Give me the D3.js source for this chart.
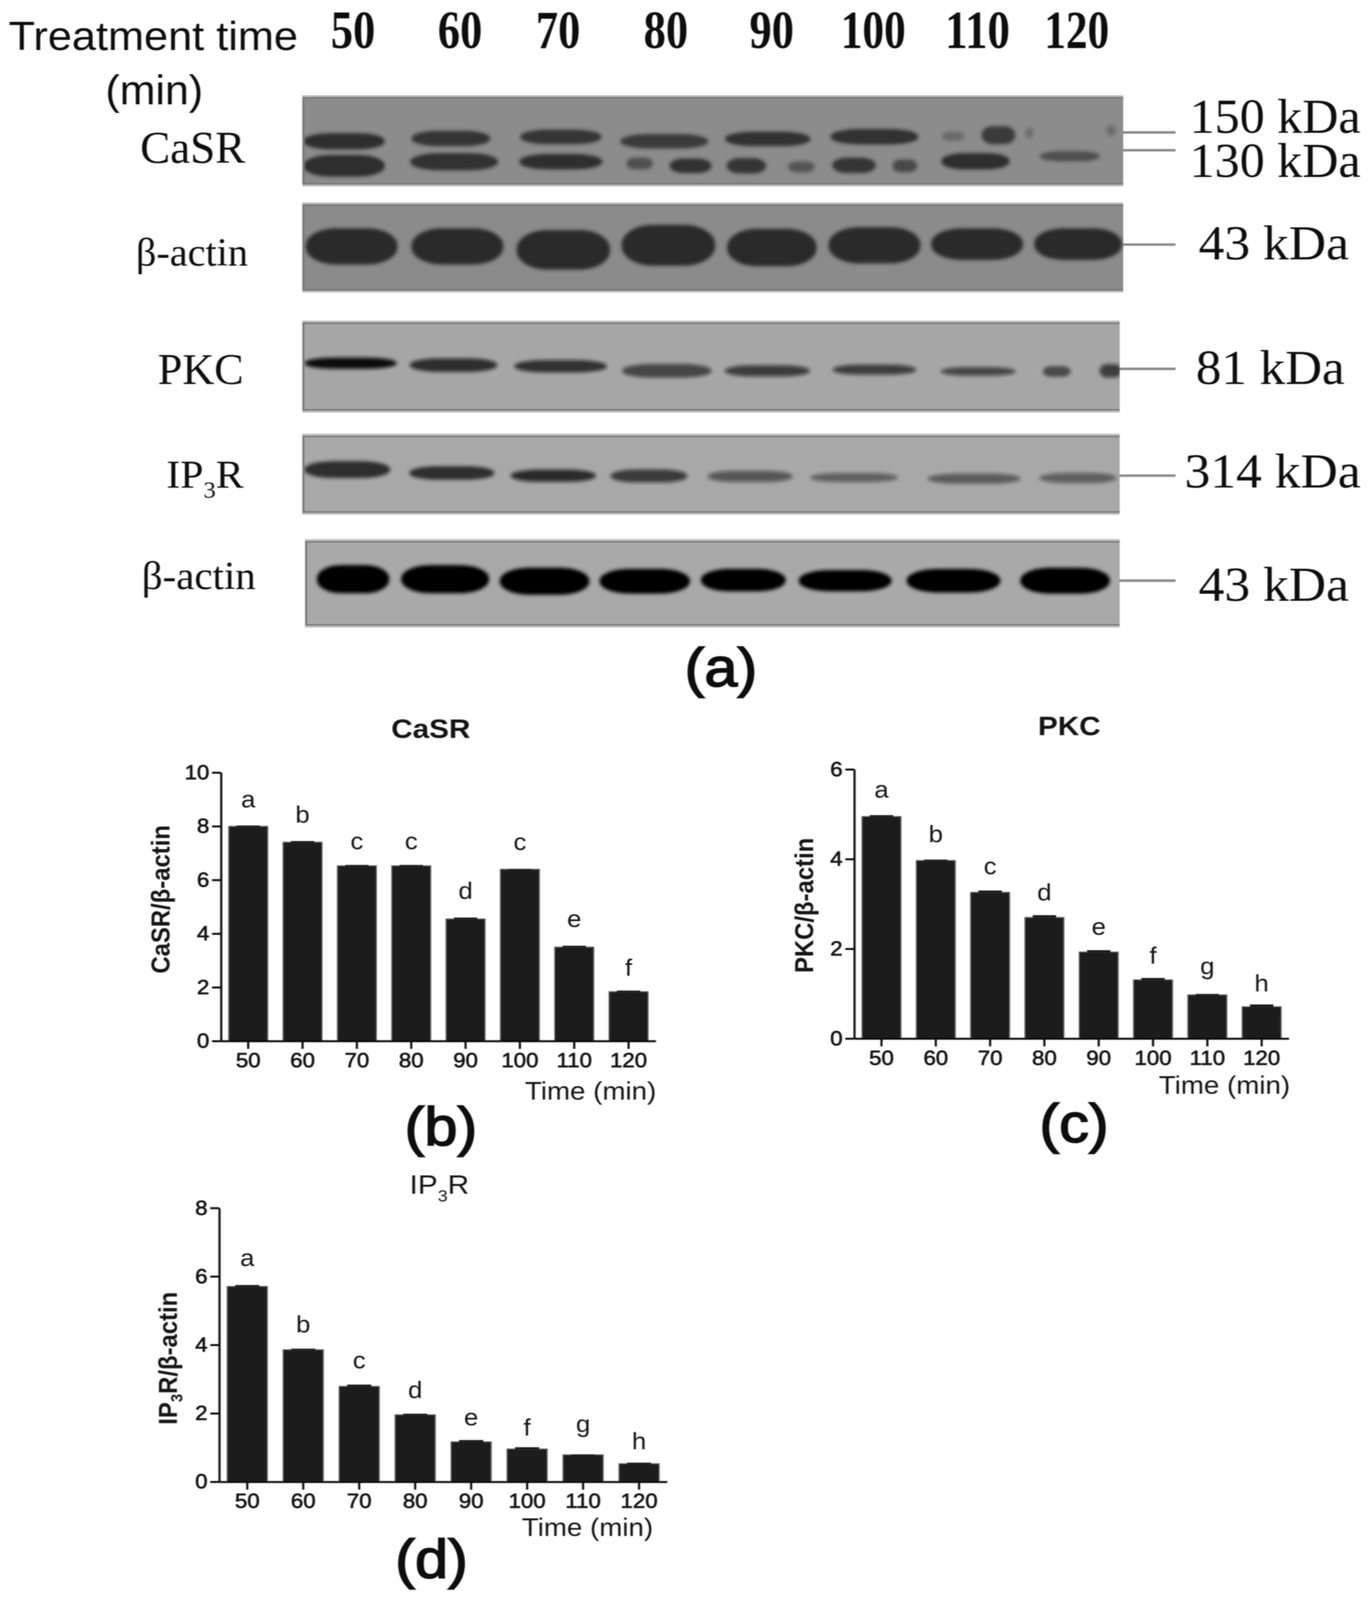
<!DOCTYPE html>
<html>
<head>
<title>CaSR, PKC and IP3R by treatment time</title>
<script src="https://d3js.org/d3.v7.min.js"></script>
<style>
body { margin: 0; background: #fff; overflow: hidden; }
svg { display: block; }
.bar-panel text { font-family: "Liberation Sans", Arial, sans-serif; fill: #161616; }
.blot-text { font-family: "Liberation Serif", "Times New Roman", serif; fill: #111; }
.sans { font-family: "Liberation Sans", Arial, sans-serif; fill: #111; }
</style>
</head>
<body>
<script>
// bar chart values
var times = ["50", "60", "70", "80", "90", "100", "110", "120"];
var casrValues = [8.0, 7.41, 6.53, 6.53, 4.55, 6.4, 3.5, 1.84];
var casrErrors = [0.03, 0.04, 0.03, 0.03, 0.05, 0.01, 0.05, 0.04];
var casrLetters = ["a", "b", "c", "c", "d", "c", "e", "f"];
var casrLetterLevels = [8.7, 8.13, 7.14, 7.14, 5.3, 7.11, 4.25, 2.43];
var casrTicks = [0, 2, 4, 6, 8, 10];

var pkcValues = [4.95, 3.97, 3.26, 2.7, 1.93, 1.31, 0.975, 0.71];
var pkcErrors = [0.03, 0.02, 0.04, 0.05, 0.04, 0.04, 0.02, 0.05];
var pkcLetters = ["a", "b", "c", "d", "e", "f", "g", "h"];
var pkcLetterLevels = [5.37, 4.38, 3.66, 3.08, 2.31, 1.67, 1.43, 1.05];
var pkcTicks = [0, 2, 4, 6];

var ip3rValues = [5.71, 3.86, 2.79, 1.96, 1.17, 0.96, 0.79, 0.53];
var ip3rErrors = [0.04, 0.03, 0.05, 0.03, 0.05, 0.05, 0.01, 0.03];
var ip3rLetters = ["a", "b", "c", "d", "e", "f", "g", "h"];
var ip3rLetterLevels = [6.31, 4.36, 3.31, 2.45, 1.65, 1.35, 1.45, 0.95];
var ip3rTicks = [0, 2, 4, 6, 8];

// gel bands: [lane %, height %, width %, thickness %, density]
var casrBands = [
  [5.1, 50.5, 9.9, 16, .9], [18.1, 47.4, 9.6, 15, .85], [31.5, 45.6, 9.9, 14, .85], [44.1, 50.5, 10.7, 14, .8],
  [56.7, 47.9, 10.4, 14, .88], [69.7, 45.4, 10.7, 15, .92], [79.3, 44.9, 2.7, 8, .35], [84.8, 43.6, 4.1, 18, .8],
  [88.6, 41, .9, 9, .3], [98.5, 38.5, 1.1, 9, .3],
  [5.1, 78.2, 9.9, 22, .95], [18.5, 73.6, 10.7, 17, .88], [31.5, 73.6, 10.1, 15, .9], [41.1, 75.6, 3.2, 11, .6],
  [47.3, 78.2, 5.1, 14, .88], [54.1, 78.2, 4.8, 15, .85], [60.8, 79.5, 3.2, 10, .55], [67.2, 77.7, 5.3, 15, .85],
  [73.4, 78.2, 3, 12, .65], [82, 73.1, 8.3, 16, .95], [93.5, 67.4, 7.3, 9, .6]
];
var actinBandsTop = [
  [6, 48.8, 11.2, 39, 1], [18.9, 48.8, 11.2, 39, 1], [31.8, 52.7, 11.4, 42.9, 1], [44.6, 47.5, 11.4, 44.2, 1],
  [57.2, 50.1, 10.9, 40.3, 1], [69.7, 47.5, 11.2, 39, 1], [82.2, 46.2, 11.2, 33.8, 1], [94.5, 46.2, 10.7, 33.8, 1]
];
var pkcBands = [
  [5.9, 46.3, 11.3, 10.2, 1], [18.5, 48.4, 10.7, 12.7, .8], [31.6, 49.7, 11.3, 11.4, .78], [44.6, 54.8, 10.9, 12.7, .65],
  [56.9, 54.8, 10.4, 10.2, .7], [70, 53.5, 10.2, 8.9, .7], [82.7, 55.5, 9.1, 7.1, .65], [92.3, 55.5, 3.4, 9.7, .55], [98.9, 54.8, 2.7, 12.7, .7]
];
var ip3rBands = [
  [5.5, 44.1, 10.5, 18.8, .85], [18.3, 48.4, 10.4, 14.5, .85], [30.7, 51.9, 10.4, 13, .82], [42.4, 52.2, 9.4, 13.9, .72],
  [54.8, 52.8, 10.4, 11.6, .55], [67.5, 54.2, 10.7, 8.7, .5], [82.2, 55.7, 11.3, 10.1, .52], [94.9, 54.8, 9.4, 10.1, .5]
];
var actinBandsBottom = [
  [5.9, 45.1, 8.9, 30.5, 1], [17.2, 45.1, 10.8, 30.5, 1], [29.4, 47.5, 11, 29.2, 1], [41.7, 47.5, 11.1, 26.5, 1],
  [53.8, 46.2, 10.4, 23.9, 1], [66.3, 46.9, 11.4, 22.5, 1], [79.6, 46.9, 11.5, 25.2, 1], [93.3, 46.9, 11, 27.9, 1]
];

// the window can be shorter than the figure, so fit the figure's coordinates to it
var svg = d3.select("body").append("svg")
  .attr("width", window.innerWidth)
  .attr("height", window.innerHeight)
  .attr("viewBox", "0 0 3513 4494")
  .attr("preserveAspectRatio", "none");

var defs = svg.append("defs");
defs.append("filter").attr("id", "soft")
  .attr("filterUnits", "userSpaceOnUse")
  .attr("x", 0).attr("y", 0).attr("width", 3513).attr("height", 4494)
  .append("feGaussianBlur").attr("stdDeviation", 1.4);
defs.append("filter").attr("id", "bandBlur")
  .attr("x", "-60%").attr("y", "-100%").attr("width", "220%").attr("height", "300%")
  .append("feGaussianBlur").attr("stdDeviation", 5);

var root = svg.append("g").attr("filter", "url(#soft)");

// ---------- western blots ----------
function blot(id, x0, x1, y0, y1, bg, ink, bands) {
  var x = d3.scaleLinear().domain([0, 100]).range([x0, x1]);
  var y = d3.scaleLinear().domain([0, 100]).range([y0, y1]);
  var bw = function(d) { return (x1 - x0) * d[2] / 100; };
  // blur eats into the visible thickness, so draw the bands a little fuller
  var bh = function(d) { return (y1 - y0) * d[3] / 100 + 6; };

  defs.append("clipPath").attr("id", id)
    .append("rect").attr("x", x0).attr("y", y0).attr("width", x1 - x0).attr("height", y1 - y0);

  root.append("rect")
    .attr("x", x0).attr("y", y0)
    .attr("width", x1 - x0).attr("height", y1 - y0)
    .attr("fill", bg);

  var g = root.append("g").attr("clip-path", "url(#" + id + ")");
  g.selectAll("rect").data(bands).enter().append("rect")
    .attr("x", function(d) { return x(d[0]) - bw(d) / 2; })
    .attr("y", function(d) { return y(d[1]) - bh(d) / 2; })
    .attr("width", bw)
    .attr("height", bh)
    .attr("rx", function(d) { return bw(d) / 3; })
    .attr("ry", function(d) { return bh(d) / 2.1; })
    .attr("fill", ink)
    .attr("fill-opacity", function(d) { return d[4]; })
    .attr("filter", "url(#bandBlur)");

  // scanned strip edge: dark line inside a pale one
  root.append("rect")
    .attr("x", x0 + 3).attr("y", y0 + 3)
    .attr("width", x1 - x0 - 6).attr("height", y1 - y0 - 6)
    .attr("fill", "none").attr("stroke", bg).attr("stroke-opacity", 0).attr("stroke-width", 0);
  root.selectAll(null).data([y0 + 4, y1 - 4]).enter().append("line")
    .attr("x1", x0).attr("x2", x1)
    .attr("y1", function(d) { return d; }).attr("y2", function(d) { return d; })
    .attr("stroke", "#777").attr("stroke-width", 4);
  root.append("line")
    .attr("x1", x0 + 3).attr("x2", x0 + 3).attr("y1", y0).attr("y2", y1)
    .attr("stroke", "#777").attr("stroke-width", 5);
  root.selectAll(null).data([y0 - 1, y1 + 1]).enter().append("line")
    .attr("x1", x0).attr("x2", x1)
    .attr("y1", function(d) { return d; }).attr("y2", function(d) { return d; })
    .attr("stroke", "#bcbcbc").attr("stroke-width", 5);
}

blot("b1", 774, 2876, 271, 520, "#8c8c8c", "#262626", casrBands);
blot("b2", 774, 2876, 572, 818, "#8b8b8b", "#2a2a2a", actinBandsTop);
blot("b3", 774, 2867, 904, 1155, "#a6a6a6", "#0a0a0a", pkcBands);
blot("b4", 774, 2867, 1222, 1442, "#a8a8a8", "#141414", ip3rBands);
blot("b5", 781, 2867, 1518, 1759, "#a9a9a9", "#000000", actinBandsBottom);

// gray leader lines from the strips to the size labels
var leaders = [[2876, 372], [2876, 422], [2876, 687], [2867, 1036], [2867, 1336], [2867, 1631]];
root.selectAll(null).data(leaders).enter().append("line")
  .attr("x1", function(d) { return d[0]; })
  .attr("x2", 3010)
  .attr("y1", function(d) { return d[1]; })
  .attr("y2", function(d) { return d[1]; })
  .attr("stroke", "#8a8a8a").attr("stroke-width", 7);

function fitted(cls, str, x, y, size, width, weight) {
  return root.append("text").attr("class", cls)
    .attr("x", x).attr("y", y)
    .attr("font-size", size)
    .attr("font-weight", weight || "normal")
    .attr("textLength", width)
    .attr("lengthAdjust", "spacingAndGlyphs")
    .text(str);
}

fitted("sans", "Treatment time", 22, 140, 114, 741);
fitted("sans", "(min)", 270, 293, 115, 250);

var headerCentres = [904, 1178, 1429, 1705, 1976, 2236, 2503, 2757];
times.forEach(function(t, i) {
  var w = t.length == 2 ? 114 : 166;
  fitted("blot-text", t, headerCentres[i] - w / 2, 135, 150, w, "bold");
});

fitted("blot-text", "CaSR", 359, 458, 128, 269);
fitted("blot-text", "β-actin", 348, 746, 112, 287);
fitted("blot-text", "PKC", 404, 1078, 122, 220);
fitted("blot-text", "β-actin", 363, 1654, 112, 292);
var ipLabel = root.append("text").attr("class", "blot-text")
  .attr("x", 426).attr("y", 1370).attr("font-size", 112)
  .attr("textLength", 198).attr("lengthAdjust", "spacingAndGlyphs");
ipLabel.append("tspan").text("IP");
ipLabel.append("tspan").attr("font-size", 66).attr("dy", 28).text("3");
ipLabel.append("tspan").attr("dy", -28).text("R");

fitted("blot-text", "150 kDa", 3046, 373, 136, 438);
fitted("blot-text", "130 kDa", 3046, 497, 136, 438);
fitted("blot-text", "43 kDa", 3069, 729, 136, 385);
fitted("blot-text", "81 kDa", 3062, 1078, 136, 381);
fitted("blot-text", "314 kDa", 3033, 1369, 136, 451);
fitted("blot-text", "43 kDa", 3069, 1687, 136, 385);

// ---------- bar charts ----------
function barPanel(o) {
  var g = root.append("g").attr("class", "bar-panel");

  var x = d3.scaleBand().domain(times)
    .range([o.left, o.right])
    .paddingInner(0.28).paddingOuter(0.14);
  var y = d3.scaleLinear().domain([0, d3.max(o.ticks)])
    .range([o.bottom, o.top]);

  g.selectAll(".bar").data(o.values).enter().append("rect")
    .attr("class", "bar")
    .attr("x", function(d, i) { return x(times[i]); })
    .attr("width", x.bandwidth())
    .attr("y", function(d) { return y(d); })
    .attr("height", function(d) { return o.bottom - y(d); })
    .attr("fill", "#1b1b1b")
    .attr("stroke", "#6a6a6a")
    .attr("stroke-width", 2.5);

  // small error caps sitting on the bars
  g.selectAll(".cap").data(o.errors).enter().append("rect")
    .attr("class", "cap")
    .attr("x", function(d, i) { return x(times[i]) + x.bandwidth() * 0.2; })
    .attr("width", x.bandwidth() * 0.6)
    .attr("y", function(d, i) { return y(o.values[i] + d); })
    .attr("height", function(d, i) { return y(o.values[i]) - y(o.values[i] + d) + 1; })
    .attr("fill", "#1b1b1b");

  g.selectAll(".letter").data(o.letters).enter().append("text")
    .attr("class", "letter")
    .attr("x", function(d, i) { return x(times[i]) + x.bandwidth() / 2; })
    .attr("y", function(d, i) { return y(o.levels[i]); })
    .attr("text-anchor", "middle")
    .attr("font-size", 66)
    .text(function(d) { return d; });

  var yAxis = g.append("g")
    .attr("transform", "translate(" + o.left + ",0)")
    .call(d3.axisLeft(y).tickValues(o.ticks).tickFormat(d3.format("d")).tickSize(23).tickSizeOuter(0).tickPadding(7));
  var xAxis = g.append("g")
    .attr("transform", "translate(0," + o.bottom + ")")
    .call(d3.axisBottom(x).tickSize(22).tickSizeOuter(0).tickPadding(11));

  [yAxis, xAxis].forEach(function(a) {
    a.attr("fill", null);
    a.selectAll("path, line").attr("stroke", "#0c0c0c").attr("stroke-width", 5.5);
    a.selectAll("text").attr("font-size", 57)
      .attr("fill", "#161616").attr("stroke", "#161616").attr("stroke-width", 1.6);
  });

  // y title, the IP3R one needs a subscript
  var yt = g.append("text")
    .attr("transform", "translate(" + o.yTitleX + "," + o.yTitleY + ") rotate(-90)")
    .attr("text-anchor", "middle")
    .attr("font-size", 67)
    .attr("font-weight", "bold");
  o.yTitle.forEach(function(p) {
    yt.append("tspan").attr("font-size", p.sub ? 42 : 67).attr("dy", p.dy || 0).text(p.t);
  });

  var tt = g.append("text")
    .attr("x", o.titleX).attr("y", o.titleY)
    .attr("text-anchor", "middle")
    .attr("font-size", 76)
    .attr("font-weight", o.titleWeight);
  o.title.forEach(function(p) {
    tt.append("tspan").attr("font-size", p.sub ? 46 : 76).attr("dy", p.dy || 0).text(p.t);
  });

  g.append("text").attr("x", o.timeX).attr("y", o.timeY)
    .attr("font-size", 71)
    .text("Time (min)");
}

barPanel({
  left: 566, right: 1679, top: 2170, bottom: 2924,
  values: casrValues, errors: casrErrors, letters: casrLetters, levels: casrLetterLevels, ticks: casrTicks,
  yTitle: [{t: "CaSR/β-actin"}], yTitleX: 434, yTitleY: 2526,
  title: [{t: "CaSR"}], titleX: 1103, titleY: 2073, titleWeight: "bold",
  timeX: 1344, timeY: 3089
});
barPanel({
  left: 2187.5, right: 3300, top: 2161, bottom: 2917,
  values: pkcValues, errors: pkcErrors, letters: pkcLetters, levels: pkcLetterLevels, ticks: pkcTicks,
  yTitle: [{t: "PKC/β-actin"}], yTitleX: 2082, yTitleY: 2543,
  title: [{t: "PKC"}], titleX: 2738, titleY: 2065, titleWeight: "bold",
  timeX: 2967, timeY: 3072
});
barPanel({
  left: 561.5, right: 1708, top: 3393, bottom: 4162,
  values: ip3rValues, errors: ip3rErrors, letters: ip3rLetters, levels: ip3rLetterLevels, ticks: ip3rTicks,
  yTitle: [{t: "IP"}, {t: "3", sub: true, dy: 14}, {t: "R/β-actin", dy: -14}], yTitleX: 453, yTitleY: 3815,
  title: [{t: "IP"}, {t: "3", sub: true, dy: 22}, {t: "R", dy: -22}], titleX: 1125, titleY: 3353, titleWeight: "normal",
  timeX: 1336, timeY: 4314
});

// panel letters
var panelLetters = [["(a)", 1846, 1928], ["(b)", 1129, 3217], ["(c)", 2750, 3208], ["(d)", 1105, 4432]];
root.selectAll(null).data(panelLetters).enter().append("text")
  .attr("class", "sans")
  .attr("x", function(d) { return d[1]; })
  .attr("y", function(d) { return d[2]; })
  .attr("text-anchor", "middle")
  .attr("font-size", 152)
  .attr("stroke", "#111")
  .attr("stroke-width", 4)
  .text(function(d) { return d[0]; });
</script>
</body>
</html>
